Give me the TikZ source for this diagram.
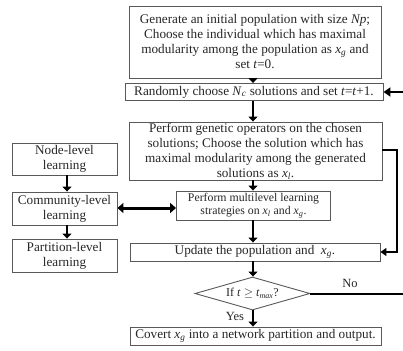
\documentclass[tikz,border=0pt]{standalone}
\usepackage{fontspec}
\setmainfont{Liberation Serif}
\usetikzlibrary{shapes.geometric,arrows.meta}
\newcommand{\vsub}[2]{\textit{#1}\textsubscript{\textit{#2}}}
\begin{document}
\begin{tikzpicture}[x=1pt,y=-1pt,
  box/.style={draw=black!65,line width=0.9pt,align=center,inner sep=0pt,
    font=\fontsize{13.2}{15}\selectfont,text=black!85},
  arr/.style={line width=2.6pt,-{Triangle[length=5pt,width=9pt]}},
  darr/.style={line width=3pt,{Triangle[length=6pt,width=10pt]}-{Triangle[length=6pt,width=10pt]}},
  loop/.style={line width=2pt},
  lbl/.style={font=\fontsize{12.5}{13}\selectfont,text=black!85,inner sep=0pt}]
\useasboundingbox (0,0) rectangle (403,350);
% main column
\node[box,minimum width=252pt,minimum height=72pt] (b1) at (255,42)
  {Generate an initial population with size \textit{Np};\\
   Choose the individual which has maximal\\
   modularity among the population as \vsub{x}{g} and\\
   set \textit{t}=0.};
\node[box,minimum width=258pt,minimum height=17pt] (b2) at (254,92)
  {Randomly choose \vsub{N}{c} solutions and set \textit{t}=\textit{t}+1.};
\node[box,minimum width=253pt,minimum height=58pt] (b3) at (255.5,151)
  {Perform genetic operators on the chosen\\
   solutions; Choose the solution which has\\
   maximal modularity among the generated\\
   solutions as \vsub{x}{l}.};
\node[box,minimum width=154pt,minimum height=29pt,
  font=\fontsize{11.8}{13.5}\selectfont] (b4) at (253.5,205.5)
  {Perform multilevel learning\\ strategies on \vsub{x}{l} and \vsub{x}{g}.};
\node[box,minimum width=250pt,minimum height=18pt] (b5) at (255,252)
  {Update the population and \ \vsub{x}{g}.};
\node[box,diamond,aspect=3.5,minimum width=115pt,minimum height=33pt,
  font=\fontsize{12}{14}\selectfont] (d) at (252.5,293.5)
  {If \textit{t} $\geq$ \vsub{t}{max}?};
\node[box,minimum width=251pt,minimum height=18pt] (b6) at (255.5,336)
  {Covert \vsub{x}{g} into a network partition and output.};
% left column
\node[box,minimum width=105pt,minimum height=32pt] (n1) at (64.5,159)
  {Node-level\\ learning};
\node[box,minimum width=105pt,minimum height=33pt] (n2) at (64.5,208.5)
  {Community-level\\ learning};
\node[box,minimum width=105pt,minimum height=33pt] (n3) at (64.5,255.5)
  {Partition-level\\ learning};
% coordinates
\coordinate (r2) at (403,92);
\coordinate (l1) at (397,150);
\coordinate (l2) at (397,252);
\coordinate (r4) at (403,293.5);
% arrows
\draw[arr] (b1.south -| 253,0) -- (b2.north -| 253,0);
\draw[arr] (b2.south -| 253,0) -- (b3.north -| 253,0);
\draw[arr] (b3.south -| 253,0) -- (b4.north -| 253,0);
\draw[arr] (b4.south -| 253,0) -- (b5.north -| 253,0);
\draw[arr] (b5.south -| 253,0) -- (d.north -| 253,0);
\draw[arr] (d.south -| 253,0) -- (b6.north -| 253,0);
\draw[arr] (n1.south -| 67,0) -- (n2.north -| 67,0);
\draw[arr] (n2.south -| 67,0) -- (n3.north -| 67,0);
\draw[darr] (n2.east |- 0,208) -- (b4.west |- 0,208);
\draw[line width=2.6pt,-{Triangle[length=7pt,width=9pt]}] (r2) -- (b2.east);
\draw[loop,-{Triangle[length=6pt,width=8pt]}] (b3.east |- l1) -- (l1) -- (l2) -- (b5.east);
\draw[loop] (d.east) -- (r4);
\node[lbl] (no) at (350,283) {No};
\node[lbl] (yes) at (235,316) {Yes};
\end{tikzpicture}
\end{document}
